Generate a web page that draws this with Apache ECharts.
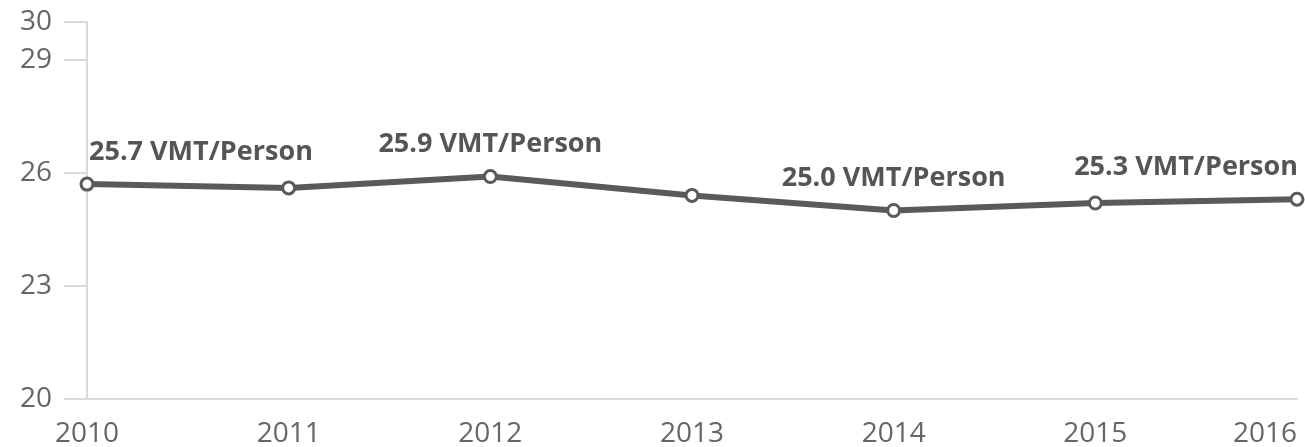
<!DOCTYPE html>
<html><head><meta charset="utf-8">
<script src="https://cdn.jsdelivr.net/npm/echarts@6/dist/echarts.min.js"></script>
<style>html,body{margin:0;padding:0;background:#fff}#c{width:1305px;height:447px}</style>
</head><body><div id="c"></div>
<script>
const years = ['2010','2011','2012','2013','2014','2015','2016'];
const vmtPerPerson = [25.7, 25.6, 25.9, 25.4, 25.0, 25.2, 25.3];
const labeledIdx = [0, 2, 4, 6];
const yMin = 20, yMax = 30, yInterval = 3;

const lineColor = '#5a5a5a';
const lastIdx = vmtPerPerson.length - 1;
const data = vmtPerPerson.map((v, i) => {
  const item = { value: v };
  if (labeledIdx.includes(i)) {
    let align = 'center', dx = 0;
    if (i === 0) { align = 'left'; dx = 2; }
    if (i === lastIdx) { align = 'right'; dx = 1; }
    item.label = { show: true, align: align, offset: [dx, 0] };
  }
  return item;
});

const chart = echarts.init(document.getElementById('c'), null, { renderer: 'canvas' });
chart.setOption({
  animation: false,
  grid: { left: 87, right: 8, top: 22, bottom: 48, containLabel: false, outerBoundsMode: 'none' },
  xAxis: {
    type: 'category', data: years, boundaryGap: false,
    axisLine: { lineStyle: { color: '#d9d9d9', width: 2 } },
    axisTick: { show: false },
    axisLabel: { color: '#666', fontSize: 28, fontFamily: 'Open Sans', margin: 21, alignMaxLabel: 'right' }
  },
  yAxis: {
    type: 'value', min: yMin, max: yMax, interval: yInterval,
    axisLine: { show: true, lineStyle: { color: '#d9d9d9', width: 2 } },
    axisTick: { show: true, length: 23, lineStyle: { color: '#d9d9d9', width: 2 } },
    splitLine: { show: false },
    axisLabel: { color: '#666', fontSize: 28, fontFamily: 'Open Sans', margin: 35 }
  },
  series: [{
    type: 'line', data: data,
    lineStyle: { color: lineColor, width: 6 },
    itemStyle: { color: '#fff', borderColor: lineColor, borderWidth: 3 },
    symbol: 'circle', symbolSize: 12,
    label: {
      show: false, position: 'top', distance: 11,
      color: '#555', fontSize: 27, fontWeight: 'bold', fontFamily: 'Open Sans',
      formatter: p => p.value.toFixed(1) + ' VMT/Person'
    }
  }]
});
</script></body></html>
